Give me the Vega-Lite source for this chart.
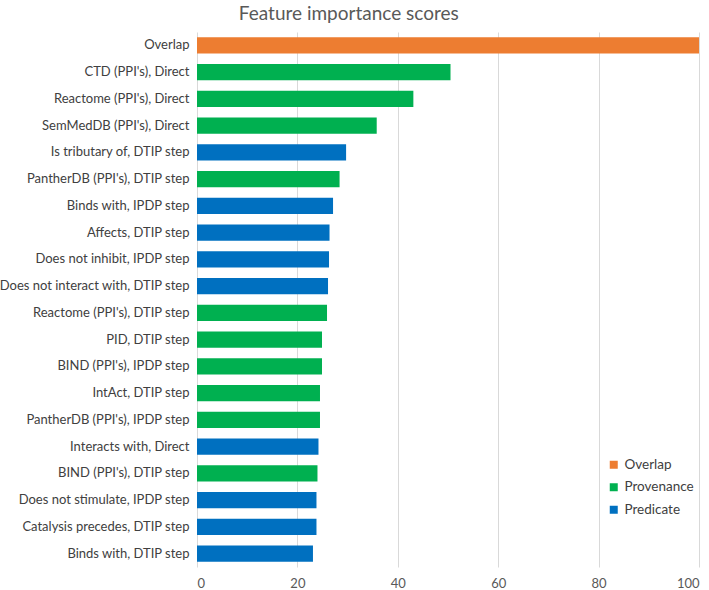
{
  "$schema": "https://vega.github.io/schema/vega-lite/v6.json",
  "width": 502,
  "height": 535,
  "autosize": "none",
  "padding": {"left": 197, "top": 32, "right": 10, "bottom": 23},
  "background": "white",
  "title": {
    "text": "Feature importance scores",
    "font": "Lato",
    "fontSize": 19,
    "fontWeight": "normal",
    "color": "#595959",
    "anchor": "middle",
    "frame": "bounds",
    "offset": 8
  },
  "data": {
    "values": [
      {"feature": "Overlap", "score": 100, "type": "Overlap"},
      {"feature": "CTD (PPI's), Direct", "score": 50.5, "type": "Provenance"},
      {"feature": "Reactome (PPI's), Direct", "score": 43.1, "type": "Provenance"},
      {"feature": "SemMedDB (PPI's), Direct", "score": 35.8, "type": "Provenance"},
      {"feature": "Is tributary of, DTIP step", "score": 29.7, "type": "Predicate"},
      {"feature": "PantherDB (PPI's), DTIP step", "score": 28.4, "type": "Provenance"},
      {"feature": "Binds with, IPDP step", "score": 27.1, "type": "Predicate"},
      {"feature": "Affects, DTIP step", "score": 26.4, "type": "Predicate"},
      {"feature": "Does not inhibit, IPDP step", "score": 26.3, "type": "Predicate"},
      {"feature": "Does not interact with, DTIP step", "score": 26.1, "type": "Predicate"},
      {"feature": "Reactome (PPI's), DTIP step", "score": 25.9, "type": "Provenance"},
      {"feature": "PID, DTIP step", "score": 24.9, "type": "Provenance"},
      {"feature": "BIND (PPI's), IPDP step", "score": 24.9, "type": "Provenance"},
      {"feature": "IntAct, DTIP step", "score": 24.5, "type": "Provenance"},
      {"feature": "PantherDB (PPI's), IPDP step", "score": 24.5, "type": "Provenance"},
      {"feature": "Interacts with, Direct", "score": 24.2, "type": "Predicate"},
      {"feature": "BIND (PPI's), DTIP step", "score": 24.0, "type": "Provenance"},
      {"feature": "Does not stimulate, IPDP step", "score": 23.8, "type": "Predicate"},
      {"feature": "Catalysis precedes, DTIP step", "score": 23.8, "type": "Predicate"},
      {"feature": "Binds with, DTIP step", "score": 23.1, "type": "Predicate"}
    ]
  },
  "mark": {"type": "bar"},
  "encoding": {
    "y": {
      "field": "feature",
      "type": "nominal",
      "sort": null,
      "scale": {"paddingInner": 0.4, "paddingOuter": 0.2},
      "axis": {
        "title": null,
        "domain": false,
        "ticks": false,
        "labelFont": "Lato",
        "labelFontSize": 13,
        "labelColor": "#404040",
        "labelPadding": 8,
        "labelLimit": 300
      }
    },
    "x": {
      "field": "score",
      "type": "quantitative",
      "scale": {"domain": [0, 100], "nice": false},
      "axis": {
        "title": null,
        "values": [0, 20, 40, 60, 80, 100],
        "domain": false,
        "ticks": false,
        "grid": true,
        "gridColor": "#d9d9d9",
        "gridWidth": 1,
        "labelFont": "Lato",
        "labelFontSize": 13,
        "labelColor": "#595959",
        "labelPadding": 10
      }
    },
    "color": {
      "field": "type",
      "type": "nominal",
      "scale": {
        "domain": ["Overlap", "Provenance", "Predicate"],
        "range": ["#ED7D31", "#00B050", "#0070C0"]
      },
      "legend": {
        "title": null,
        "orient": "none",
        "legendX": 410,
        "legendY": 426,
        "symbolType": "square",
        "symbolSize": 64,
        "symbolStrokeWidth": 0,
        "labelFont": "Lato",
        "labelFontSize": 13.5,
        "labelColor": "#404040",
        "rowPadding": 7.5,
        "labelOffset": 4
      }
    }
  },
  "config": {"view": {"stroke": null}}
}
